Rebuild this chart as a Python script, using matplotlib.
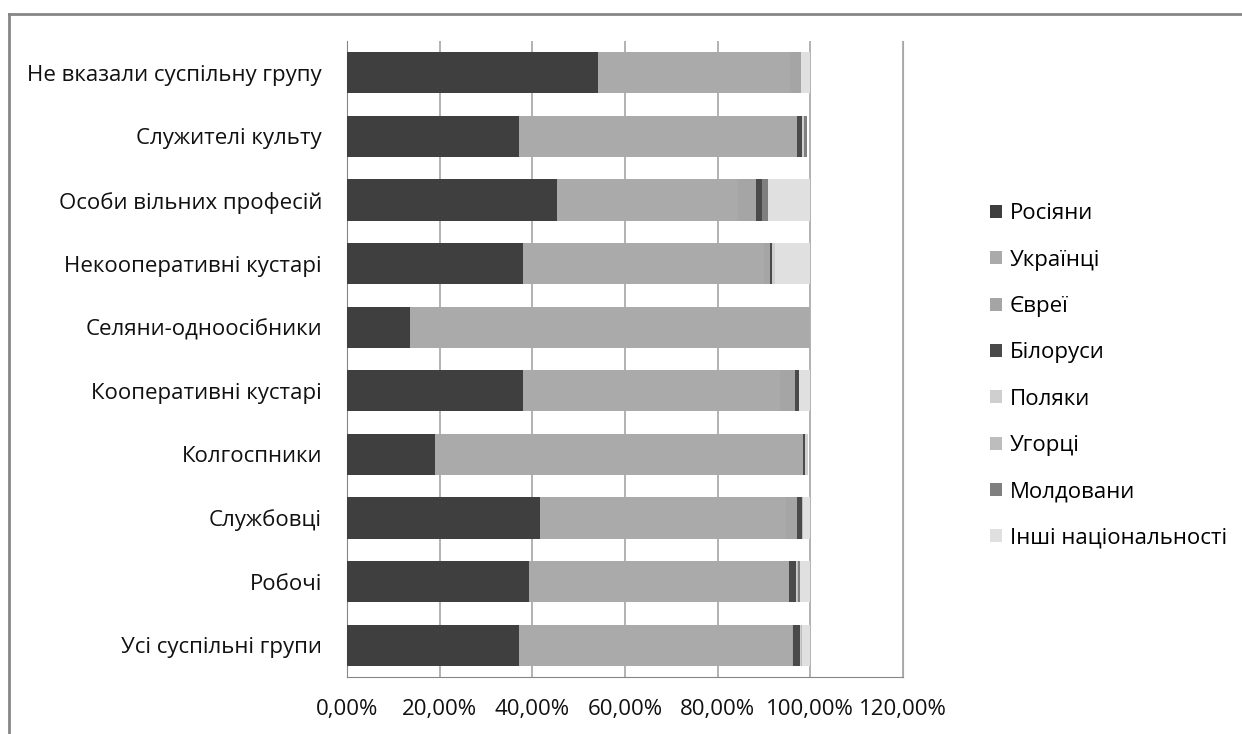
import matplotlib
matplotlib.use("Agg")
from matplotlib import pyplot as plt
from matplotlib.lines import Line2D
from matplotlib.ticker import FuncFormatter
import numpy as np

plt.rcParams['font.family'] = ['Open Sans', 'DejaVu Sans']

# categories from bottom to top
groups = ['Усі суспільні групи', 'Робочі', 'Службовці', 'Колгоспники',
          'Кооперативні кустарі', 'Селяни-одноосібники', 'Некооперативні кустарі',
          'Особи вільних професій', 'Служителі культу', 'Не вказали суспільну групу']

rosiyany   = [37.1, 39.2, 41.6, 19.1, 37.9, 13.5, 37.9, 45.4, 37.1, 54.2]
ukraintsi  = [58.9, 56.1, 53.2, 79.3, 55.5, 86.5, 52.0, 39.0, 60.0, 41.5]
yevrei     = [0.2, 0.1, 2.4, 0.0, 3.3, 0.0, 1.3, 3.9, 0.0, 2.3]
bilorusy   = [1.5, 1.5, 1.0, 0.4, 0.8, 0.0, 0.6, 1.3, 1.2, 0.0]
polyaky    = [0.3, 0.3, 0.1, 0.6, 0.0, 0.0, 0.6, 0.0, 0.3, 0.0]
uhortsi    = [0.1, 0.1, 0.1, 0.0, 0.0, 0.0, 0.0, 0.0, 0.1, 0.0]
moldovany  = [0.1, 0.4, 0.0, 0.0, 0.0, 0.0, 0.0, 1.2, 0.5, 0.0]
inshi      = [1.8, 2.2, 1.6, 0.0, 2.5, 0.0, 7.6, 9.2, 0.0, 2.0]

series_names = ['Росіяни', 'Українці', 'Євреї', 'Білоруси', 'Поляки',
                'Угорці', 'Молдовани', 'Інші національності']
series = [rosiyany, ukraintsi, yevrei, bilorusy, polyaky, uhortsi, moldovany, inshi]
colors = ['#3f3f3f', '#aaaaaa', '#a5a5a5', '#4a4a4a', '#cfcfcf',
          '#bdbdbd', '#7f7f7f', '#e0e0e0']

fig = plt.figure(figsize=(12.42, 7.34), dpi=100)
ax = fig.add_axes([347/1242, 1-677/734, (903-347)/1242, (677-41)/734])

y = np.arange(len(groups))
left = np.zeros(len(groups))
for name, vals, c in zip(series_names, series, colors):
    ax.barh(y, vals, left=left, height=0.645, color=c, label=name, zorder=3)
    left += np.array(vals)

ax.set_xlim(0, 120)
ax.set_ylim(-0.5, len(groups) - 0.5)
ax.set_xticks(np.arange(0, 121, 20))
ax.xaxis.set_major_formatter(FuncFormatter(lambda v, p: ('%.2f%%' % v).replace('.', ',')))
ax.set_yticks(y)
ax.set_yticklabels(groups)
ax.tick_params(axis='y', length=0, pad=18, labelsize=16, colors='#111111')
ax.tick_params(axis='x', length=0, pad=16, labelsize=16, colors='#111111')
ax.grid(axis='x', color='#a6a6a6', linewidth=1.2, zorder=0)
ax.set_axisbelow(True)
ax.spines['top'].set_visible(False)
ax.spines['right'].set_color('#a6a6a6')
ax.spines['left'].set_color('#868686')
ax.spines['bottom'].set_color('#868686')

handles, labels = ax.get_legend_handles_labels()
fig.legend(handles, labels, loc='center left', bbox_to_anchor=(979/1242, 1-376/734),
           frameon=False, fontsize=16, handlelength=0.54, handleheight=0.54,
           handletextpad=0.36, labelspacing=1.14, borderpad=0)

# chart frame
fig.add_artist(Line2D([9/1242, 1], [1-14/734, 1-14/734], color='#868686', linewidth=2))
fig.add_artist(Line2D([9/1242, 9/1242], [0, 1-14/734], color='#868686', linewidth=2))

fig.savefig('out.png', dpi=100)
